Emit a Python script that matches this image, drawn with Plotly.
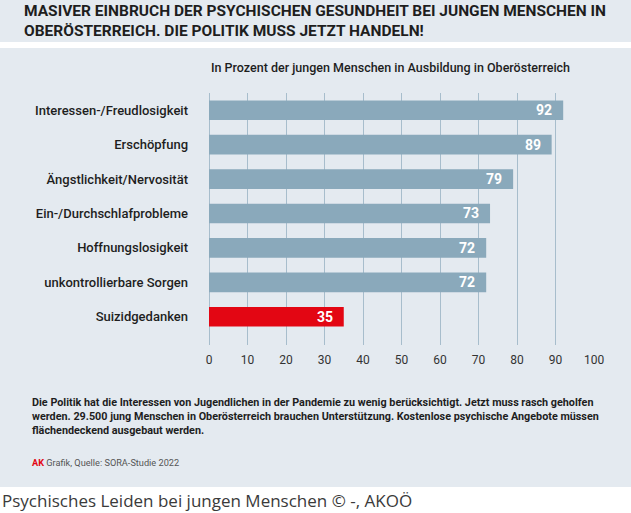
import plotly.graph_objects as go

categories = ["Interessen-/Freudlosigkeit", "Erschöpfung", "Ängstlichkeit/Nervosität",
              "Ein-/Durchschlafprobleme", "Hoffnungslosigkeit", "unkontrollierbare Sorgen",
              "Suizidgedanken"]
values = [92, 89, 79, 73, 72, 72, 35]
bar_colors = ["#8aa9bb"] * 6 + ["#e30613"]
x_ticks = [0, 10, 20, 30, 40, 50, 60, 70, 80, 90, 100]

NARROW = "Roboto, Liberation Sans, sans-serif"
PANEL = "#e4eaf0"

fig = go.Figure()
fig.add_trace(go.Bar(
    x=values, y=categories, orientation="h",
    marker=dict(color=bar_colors, line=dict(width=0)),
    width=0.57, hoverinfo="skip",
))

for c, v in zip(categories, values):
    fig.add_annotation(x=v, y=c, xref="x", yref="y", text=f"<b>{v}</b>",
                       showarrow=False, xanchor="right", xshift=-9,
                       font=dict(family=NARROW, size=14, color="white"))

fig.update_layout(
    width=631, height=513,
    margin=dict(l=209, r=37, t=93, b=168),
    paper_bgcolor="white", plot_bgcolor="rgba(0,0,0,0)",
    showlegend=False,
    xaxis=dict(range=[0, 100], tickvals=x_ticks, showgrid=True, gridcolor="#a7bdcc",
               gridwidth=1, zeroline=True, zerolinecolor="#a7bdcc", zerolinewidth=1,
               showline=False, ticks="", fixedrange=True,
               tickfont=dict(family=NARROW, size=12, color="#333"),
               ticklabelstandoff=6),
    yaxis=dict(categoryorder="array", categoryarray=categories,
               range=[6.82, -0.5], showgrid=False, zeroline=False, showline=False,
               ticks="", fixedrange=True,
               tickfont=dict(family=NARROW, size=13, color="#1e1e1e", weight=500),
               ticklabelstandoff=20),
    shapes=[
        dict(type="rect", xref="paper", yref="paper", x0=-1, x1=2, layer="below",
             y0=1 + 51 / 252, y1=1 + 93 / 252, fillcolor=PANEL, line=dict(width=0)),
        dict(type="rect", xref="paper", yref="paper", x0=-1, x1=2, layer="below",
             y0=1 - (487 - 93) / 252 - 0.0001, y1=1 + 45 / 252, fillcolor=PANEL, line=dict(width=0)),
    ],
)

def px(xp):
    return (xp - 209) / (631 - 209 - 37)

def py(yp):
    return (345 - yp) / 252

texts = [
    dict(x=px(22), y=py(21), text="<b>MASIVER EINBRUCH DER PSYCHISCHEN GESUNDHEIT BEI JUNGEN MENSCHEN IN<br>OBERÖSTERREICH. DIE POLITIK MUSS JETZT HANDELN!</b>",
         font=dict(family=NARROW, size=15.5, color="#1e1e1e")),
    dict(x=px(209), y=py(68), text="In Prozent der jungen Menschen in Ausbildung in Oberösterreich",
         font=dict(family=NARROW, size=12.5, color="#1e1e1e", weight=500)),
    dict(x=px(30), y=py(416), text="<b>Die Politik hat die Interessen von Jugendlichen in der Pandemie zu wenig berücksichtigt. Jetzt muss rasch geholfen<br>werden. 29.500 jung Menschen in Oberösterreich brauchen Unterstützung. Kostenlose psychische Angebote müssen<br>flächendeckend ausgebaut werden.</b>",
         font=dict(family=NARROW, size=10.8, color="#1e1e1e")),
    dict(x=px(30), y=py(462), text="<b><span style='color:#e30613'>AK</span></b> Grafik, Quelle: SORA-Studie 2022",
         font=dict(family=NARROW, size=9.2, color="#555")),
    dict(x=px(0), y=py(500), text="Psychisches Leiden bei jungen Menschen © -, AKOÖ",
         font=dict(family="Open Sans, sans-serif", size=17, color="#3a3a3a")),
]
for t in texts:
    fig.add_annotation(xref="paper", yref="paper", showarrow=False, xanchor="left",
                       yanchor="middle", align="left", **t)

fig.write_html("out.html", config={"displayModeBar": False})

with open("out.html", encoding="utf-8") as f:
    html = f.read()
html = html.replace("<body>", "<body style=\"margin:0;overflow:hidden\">", 1)
with open("out.html", "w", encoding="utf-8") as f:
    f.write(html)
